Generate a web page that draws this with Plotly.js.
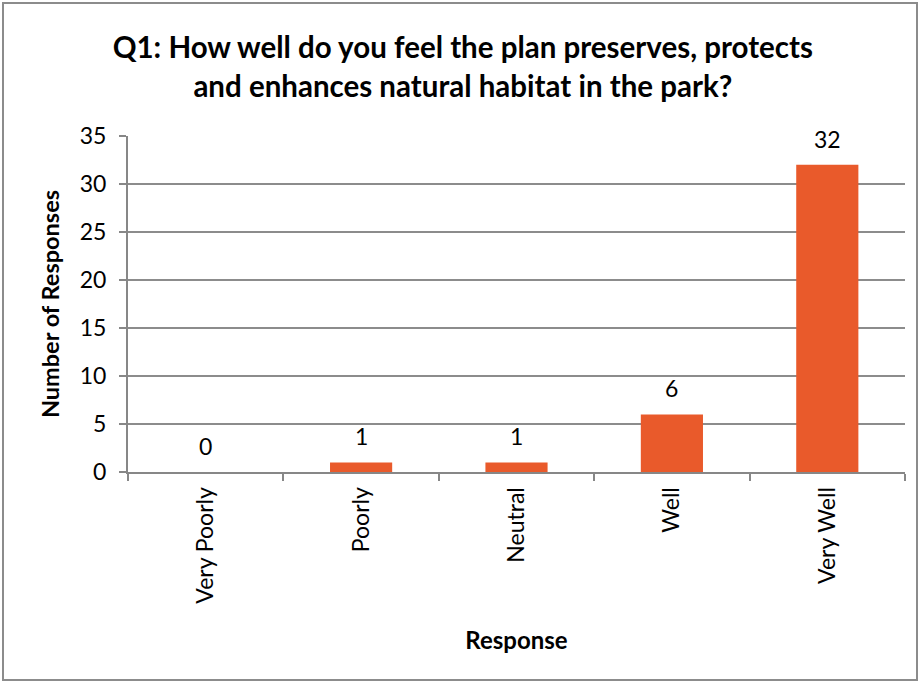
<!DOCTYPE html>
<html>
<head>
<meta charset="utf-8">
<script src="https://cdn.plot.ly/plotly-3.0.1.min.js"></script>
<style>
  html, body { margin: 0; padding: 0; background: #fff; }
  #frame { position: absolute; left: 2px; top: 2px; width: 916px; height: 679px; border: 2px solid #8c8c8c; box-sizing: border-box; pointer-events: none; }
  #chart { position: absolute; left: 0; top: 0; width: 922px; height: 685px; }
</style>
</head>
<body>
<div id="chart"></div>
<div id="frame"></div>
<script>
const categories = ["Very Poorly", "Poorly", "Neutral", "Well", "Very Well"];
const responses = [0, 1, 1, 6, 32];
const yTicks = [0, 5, 10, 15, 20, 25, 30, 35];

const font = "Lato, 'Open Sans', 'Liberation Sans', sans-serif";

const trace = {
  type: "bar",
  x: categories,
  y: responses,
  marker: { color: "#E95A2B" },
  width: 0.4,
  hoverinfo: "x+y"
};

const labels = categories.map((c, i) => ({
  x: c, y: responses[i], xref: "x", yref: "y",
  text: String(responses[i]),
  showarrow: false, yanchor: "bottom", yshift: 10,
  font: { family: font, size: 23, color: "#000" }
}));

const layout = {
  width: 922,
  height: 685,
  paper_bgcolor: "#fff",
  plot_bgcolor: "#fff",
  margin: { l: 128, r: 17, t: 136, b: 213 },
  showlegend: false,
  annotations: labels,
  title: {
    text: "<b>Q1: How well do you feel the plan preserves, protects<br>and enhances natural habitat in the park?</b>",
    font: { family: font, size: 29.5, color: "#000" },
    x: 0.502, xanchor: "center",
    yref: "container", y: 0.915, yanchor: "middle"
  },
  xaxis: {
    type: "category",
    showline: true, linecolor: "#878787", linewidth: 2,
    ticks: "outside", tickson: "boundaries", ticklen: 7, tickcolor: "#878787", tickwidth: 2,
    tickangle: -90,
    ticklabelstandoff: 4,
    tickfont: { family: font, size: 23, color: "#000" },
    showgrid: false,
    title: { text: "<b>Response</b>", font: { family: font, size: 24, color: "#000" }, standoff: 30 },
    automargin: false
  },
  yaxis: {
    range: [0, 35],
    tickvals: yTicks,
    showline: true, linecolor: "#878787", linewidth: 2,
    ticks: "outside", ticklen: 7, tickcolor: "#878787", tickwidth: 2,
    ticklabelstandoff: 8,
    tickfont: { family: font, size: 23, color: "#000" },
    showgrid: true, gridcolor: "#8c8c8c", gridwidth: 1.5,
    zeroline: false,
    title: { text: "<b>Number of Responses</b>", font: { family: font, size: 23.5, color: "#000" }, standoff: 13 },
    automargin: false
  },
  bargap: 0.6
};

Plotly.newPlot("chart", [trace], layout, { displayModeBar: false, staticPlot: true });
</script>
</body>
</html>
